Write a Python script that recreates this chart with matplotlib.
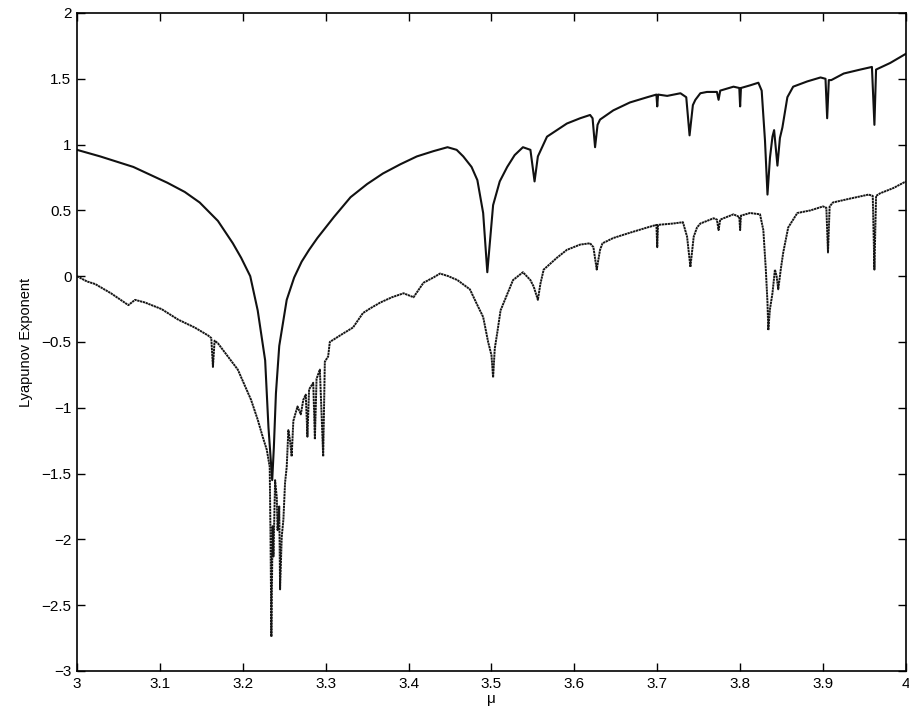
import matplotlib
matplotlib.use("Agg")
import matplotlib.pyplot as plt

plt.rcParams['font.family'] = ['Liberation Sans', 'DejaVu Sans']

# Upper (solid) curve
upper_mu = [3.000, 3.028, 3.068, 3.109, 3.130, 3.148, 3.170, 3.188, 3.198, 3.209, 3.218, 3.227, 3.231, 3.2355,
            3.2375, 3.240, 3.244, 3.253, 3.262, 3.271, 3.280, 3.290, 3.310, 3.330, 3.350, 3.369, 3.390, 3.410, 3.430,
            3.447, 3.458, 3.466, 3.476, 3.483, 3.490, 3.495, 3.502, 3.510, 3.519, 3.528, 3.538, 3.547, 3.552,
            3.556, 3.567, 3.579, 3.591, 3.607, 3.619, 3.622, 3.625, 3.628, 3.631, 3.647, 3.667, 3.688, 3.699,
            3.700, 3.701, 3.712, 3.728, 3.735, 3.739, 3.743, 3.746, 3.752, 3.760, 3.772, 3.774, 3.776, 3.792,
            3.799, 3.800, 3.801, 3.812, 3.822, 3.826, 3.830, 3.833, 3.836, 3.839, 3.841, 3.845, 3.848, 3.851,
            3.857, 3.864, 3.881, 3.897, 3.903, 3.905, 3.907, 3.910, 3.925, 3.945, 3.959, 3.962, 3.964, 3.981,
            4.000]
upper_val = [0.96, 0.91, 0.83, 0.71, 0.64, 0.56, 0.42, 0.25, 0.14, 0.00, -0.26, -0.64, -1.15, -1.55,
             -1.30, -0.89, -0.53, -0.18, -0.01, 0.11, 0.20, 0.29, 0.45, 0.60, 0.70, 0.78, 0.85, 0.91, 0.95,
             0.98, 0.96, 0.91, 0.83, 0.73, 0.48, 0.03, 0.54, 0.72, 0.83, 0.92, 0.98, 0.96, 0.72,
             0.91, 1.06, 1.11, 1.16, 1.20, 1.225, 1.20, 0.98, 1.15, 1.19, 1.26, 1.32, 1.36, 1.38,
             1.29, 1.38, 1.37, 1.39, 1.36, 1.07, 1.30, 1.34, 1.39, 1.40, 1.40, 1.34, 1.41, 1.44,
             1.43, 1.29, 1.43, 1.45, 1.47, 1.41, 1.03, 0.62, 0.90, 1.06, 1.11, 0.84, 1.05, 1.13,
             1.36, 1.44, 1.48, 1.51, 1.50, 1.20, 1.49, 1.49, 1.54, 1.57, 1.59, 1.15, 1.57, 1.62,
             1.69]

# Lower (dotted, noisy) curve
lower_mu = [3.000, 3.012, 3.022, 3.041, 3.062, 3.070, 3.082, 3.102, 3.122, 3.142, 3.158, 3.162, 3.164, 3.166,
            3.170, 3.182, 3.194, 3.203, 3.210, 3.218, 3.224, 3.229, 3.2325, 3.2335, 3.2345, 3.236, 3.237,
            3.239, 3.241, 3.242, 3.244, 3.245, 3.247, 3.249, 3.251, 3.253, 3.255, 3.257, 3.259, 3.261, 3.266,
            3.270, 3.273, 3.276, 3.278, 3.280, 3.285, 3.287, 3.289, 3.293, 3.297, 3.299, 3.303, 3.305, 3.320,
            3.333, 3.345, 3.355, 3.366, 3.380, 3.394, 3.406, 3.418, 3.430, 3.438, 3.448, 3.459, 3.474, 3.483,
            3.490, 3.496, 3.500, 3.502, 3.504, 3.507, 3.511, 3.526, 3.538, 3.547, 3.551, 3.556, 3.559, 3.563,
            3.579, 3.591, 3.607, 3.619, 3.623, 3.627, 3.631, 3.634, 3.647, 3.667, 3.688, 3.699, 3.700, 3.701,
            3.719, 3.731, 3.736, 3.740, 3.744, 3.748, 3.752, 3.768, 3.772, 3.774, 3.776, 3.792, 3.799, 3.800,
            3.801, 3.812, 3.824, 3.828, 3.831, 3.833, 3.834, 3.836, 3.839, 3.842, 3.844, 3.846, 3.849, 3.852,
            3.858, 3.869, 3.885, 3.900, 3.904, 3.906, 3.908, 3.912, 3.933, 3.955, 3.960, 3.962, 3.964, 3.969,
            3.985, 4.000]
lower_val = [0.00, -0.04, -0.06, -0.13, -0.22, -0.18, -0.20, -0.25, -0.33, -0.39, -0.45, -0.47, -0.69, -0.49,
             -0.51, -0.61, -0.71, -0.84, -0.94, -1.09, -1.22, -1.32, -1.45, -2.00, -2.74, -1.90, -2.13,
             -1.55, -1.68, -1.93, -1.75, -2.38, -1.98, -1.85, -1.57, -1.45, -1.17, -1.25, -1.37, -1.10, -0.99,
             -1.05, -0.94, -0.90, -1.22, -0.86, -0.81, -1.24, -0.78, -0.71, -1.37, -0.65, -0.61, -0.50, -0.44,
             -0.39, -0.28, -0.24, -0.20, -0.16, -0.13, -0.16, -0.05, -0.01, 0.02, 0.00, -0.03, -0.10, -0.22,
             -0.31, -0.50, -0.60, -0.77, -0.55, -0.43, -0.26, -0.03, 0.03, -0.03, -0.08, -0.18, -0.06, 0.05,
             0.14, 0.20, 0.24, 0.25, 0.22, 0.05, 0.20, 0.25, 0.29, 0.33, 0.37, 0.39, 0.22, 0.39,
             0.40, 0.41, 0.30, 0.07, 0.30, 0.37, 0.40, 0.44, 0.43, 0.35, 0.43, 0.47, 0.45, 0.35,
             0.46, 0.48, 0.47, 0.35, 0.05, -0.20, -0.41, -0.25, -0.13, 0.05, 0.00, -0.10, 0.05, 0.18,
             0.37, 0.48, 0.50, 0.53, 0.52, 0.18, 0.53, 0.56, 0.59, 0.62, 0.61, 0.05, 0.61, 0.63,
             0.67, 0.72]

x_ticks = [3, 3.1, 3.2, 3.3, 3.4, 3.5, 3.6, 3.7, 3.8, 3.9, 4]
x_ticklabels = ['3', '3.1', '3.2', '3.3', '3.4', '3.5', '3.6', '3.7', '3.8', '3.9', '4']
y_ticks = [-3, -2.5, -2, -1.5, -1, -0.5, 0, 0.5, 1, 1.5, 2]
y_ticklabels = ['\u22123', '\u22122.5', '\u22122', '\u22121.5', '\u22121', '\u22120.5', '0', '0.5', '1', '1.5', '2']

fig = plt.figure(figsize=(9.09, 7.21), dpi=100)
ax = fig.add_axes([0.0847, 0.0694, 0.9119, 0.9126])

ax.plot(upper_mu, upper_val, color='#111111', linewidth=1.5)
ax.plot(lower_mu, lower_val, color='#151515', linewidth=1.4, linestyle=(0, (1.2, 0.3)))

ax.set_xlim(3, 4)
ax.set_ylim(-3, 2)
ax.set_xticks(x_ticks)
ax.set_xticklabels(x_ticklabels)
ax.set_yticks(y_ticks)
ax.set_yticklabels(y_ticklabels)
ax.tick_params(direction='in', length=6, width=1, top=True, right=True, labelsize=11, pad=4)
for s in ax.spines.values():
    s.set_linewidth(1.2)
ax.set_xlabel('\u03bc', fontsize=11, labelpad=1)
ax.set_ylabel('Lyapunov Exponent', fontsize=10.5, labelpad=6)

fig.savefig('out.png', dpi=100)
